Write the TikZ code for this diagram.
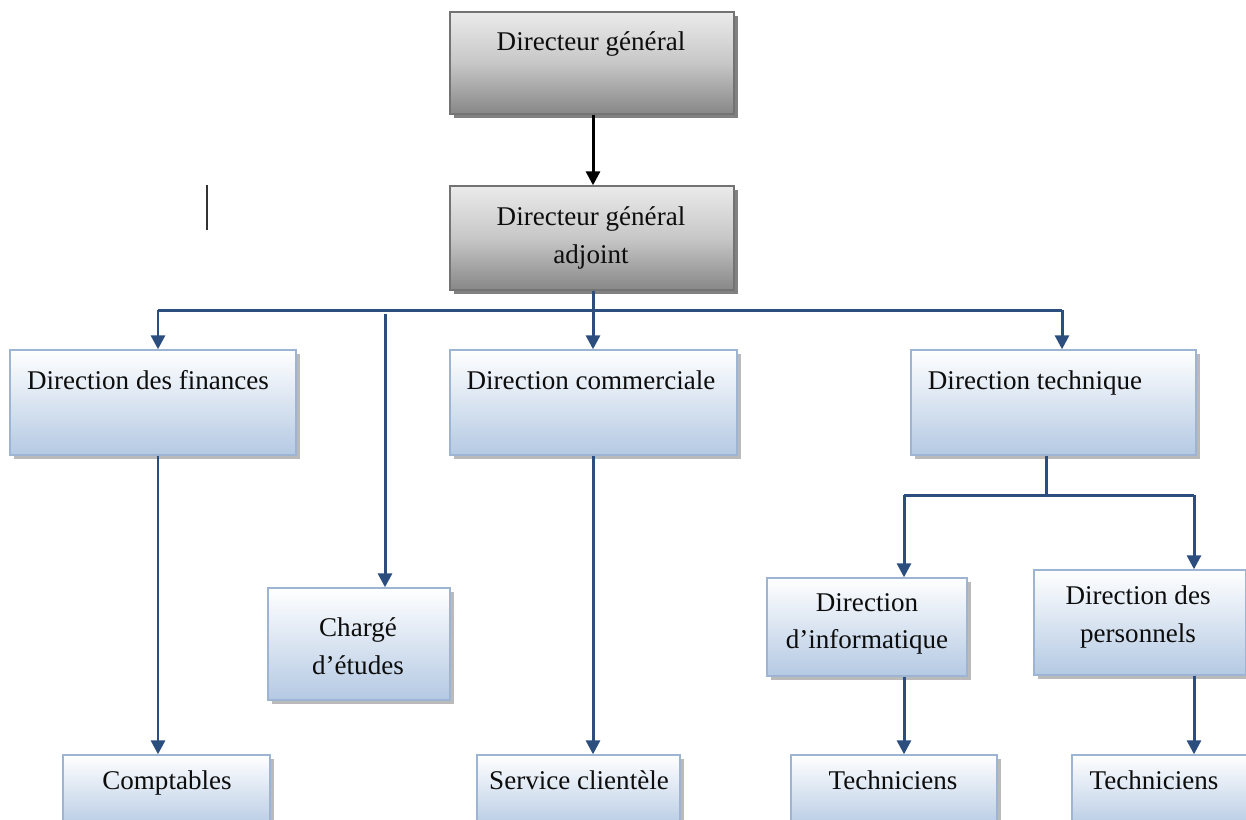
\documentclass[tikz,border=0pt]{standalone}
\usepackage{fontspec}
\setmainfont{Liberation Serif}
\usetikzlibrary{fit,shadows,arrows.meta}
\definecolor{linkblue}{HTML}{2C4E7E}
\definecolor{boxblue}{HTML}{B4C9E3}
\definecolor{edgeblue}{HTML}{9DB4D2}
\tikzset{
  graybox/.style={draw=black!55, line width=0.8pt, top color=black!8, bottom color=black!47, middle color=black!22, inner sep=0pt,
    drop shadow={shadow xshift=2pt, shadow yshift=-2pt, fill=black!70, opacity=0.7}},
  bluebox/.style={draw=edgeblue, line width=0.8pt, top color=white, bottom color=boxblue, inner sep=0pt,
    drop shadow={shadow xshift=2pt, shadow yshift=-2pt, fill=black!45, opacity=0.6}},
  lbl/.style={font=\fontsize{15.4}{21.5}\selectfont, align=center, inner sep=0pt, text=black!95},
  link/.style={draw=linkblue, line width=1.7pt, -{Triangle[length=8pt,width=8pt]}},
  plain/.style={draw=linkblue, line width=1.7pt},
}
\begin{document}
\begin{tikzpicture}[x=0.02cm,y=-0.02cm]
\useasboundingbox[fill=white] (0,0) rectangle (1246,819);
% boxes
\node[graybox, fit={(450,12) (734,114)}] (dg) {};
\node[graybox, fit={(450,186) (734,290)}] (dga) {};
\node[bluebox, fit={(10,350) (296,455)}] (df) {};
\node[bluebox, fit={(450,350) (737,455)}] (dc) {};
\node[bluebox, fit={(911,350) (1196,455)}] (dt) {};
\node[bluebox, fit={(268,588) (450,700)}] (ce) {};
\node[bluebox, fit={(767,578) (967,676)}] (di) {};
\node[bluebox, fit={(1034,570) (1246,675)}] (dp) {};
\node[bluebox, fit={(63,755) (270,830)}] (co) {};
\node[bluebox, fit={(477,755) (680,830)}] (sc) {};
\node[bluebox, fit={(791,755) (997,830)}] (t1) {};
\node[bluebox, fit={(1072,755) (1260,830)}] (t2) {};
% texts
\node[lbl, anchor=base] (tdg) at (591,50) {Directeur général};
\node[lbl] (tdga) at (591,238) {Directeur général\\adjoint};
\node[lbl, anchor=base] (tdf) at (148,389) {Direction des finances};
\node[lbl, anchor=base] (tdc) at (591,389) {Direction commerciale};
\node[lbl, anchor=base] (tdt) at (1035,389) {Direction technique};
\node[lbl] (tce) at (358,646) {Chargé\\d’études};
\node[lbl] (tdi) at (867,624) {Direction\\d’informatique};
\node[lbl] (tdp) at (1138,617) {Direction des\\personnels};
\node[lbl, anchor=base] (tco) at (167,789) {Comptables};
\node[lbl, anchor=base] (tsc) at (579,789) {Service clientèle};
\node[lbl, anchor=base] (tt1) at (893,789) {Techniciens};
\node[lbl, anchor=base] (tt2) at (1154,789) {Techniciens};
% connectors
\coordinate (bus) at (593,310);
\coordinate (busl) at (158,310);
\coordinate (busr) at (1062,310);
\coordinate (cestart) at (385,314);
\coordinate (dtj) at (1046,495);
\coordinate (dtl) at (904,495);
\coordinate (dtr) at (1194,495);
\draw[black, line width=1.7pt, -{Triangle[length=8pt,width=8pt]}] (dg.south -| 593,0) -- (dga.north -| 593,0);
\draw[plain] (dga.south -| bus) -- (bus);
\draw[plain] (busl) -- (busr);
\draw[link] (busl) -- (df.north -| busl);
\draw[link] (bus) -- (dc.north -| bus);
\draw[link] (busr) -- (dt.north -| busr);
\draw[link] (cestart) -- (ce.north -| cestart);
\draw[link] (df.south -| busl) -- (co.north -| busl);
\draw[link] (dc.south -| bus) -- (sc.north -| bus);
\draw[plain] (dt.south -| dtj) -- (dtj);
\draw[plain] (dtl) -- (dtr);
\draw[link] (dtl) -- (di.north -| dtl);
\draw[link] (dtr) -- (dp.north -| dtr);
\draw[link] (di.south -| dtl) -- (t1.north -| dtl);
\draw[link] (dp.south -| dtr) -- (t2.north -| dtr);
% stray mark
\coordinate (m1) at (207,185);
\coordinate (m2) at (207,230);
\draw[black!80, line width=0.9pt] (m1) -- (m2);
\end{tikzpicture}
\end{document}
